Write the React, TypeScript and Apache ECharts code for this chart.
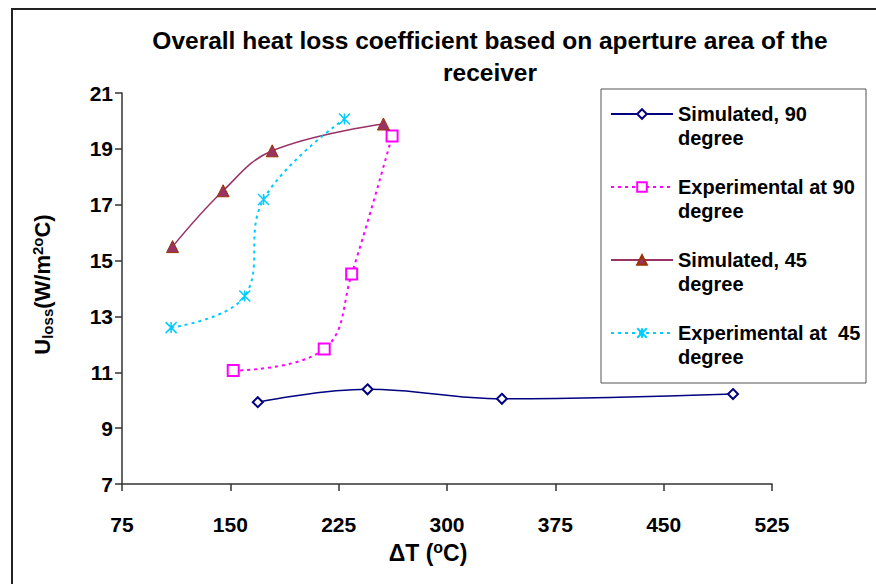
import React, { useEffect, useRef } from "react";
import * as echarts from "echarts";

const seriesNames = [
  "Simulated, 90 degree",
  "Experimental at 90 degree",
  "Simulated, 45 degree",
  "Experimental at  45 degree",
];
const legendLabels = [
  "Simulated, 90\ndegree",
  "Experimental at 90\ndegree",
  "Simulated, 45\ndegree",
  "Experimental at  45\ndegree",
];
const sim90: [number, number][] = [
  [169, 9.93],
  [245, 10.39],
  [338, 10.05],
  [498, 10.22],
];
const exp90: [number, number][] = [
  [152, 11.06],
  [215, 11.83],
  [234, 14.52],
  [262, 19.46],
];
const sim45: [number, number][] = [
  [110, 15.5],
  [145, 17.5],
  [179, 18.93],
  [256, 19.89],
];
const exp45: [number, number][] = [
  [109, 12.6],
  [160, 13.73],
  [173, 17.19],
  [229, 20.07],
];
const xTicks = { min: 75, max: 525, interval: 75 };
const yTicks = { min: 7, max: 21, interval: 2 };

const FONT = "'Liberation Sans', Arial, sans-serif";
const STAR = "path://M0,0L10,10M10,0L0,10M5,0L5,10";

export default function App() {
  const ref = useRef<HTMLDivElement>(null);
  useEffect(() => {
    if (!ref.current) return;
    const chart = echarts.init(ref.current, undefined, { renderer: "svg" });
    const labelMap: Record<string, string> = {};
    seriesNames.forEach((n, i) => (labelMap[n] = " \n" + legendLabels[i]));
    chart.setOption({
      animation: false,
      backgroundColor: "#ffffff",
      title: {
        text: "Overall heat loss coefficient based on aperture area of the\nreceiver",
        left: 490,
        top: 24,
        textAlign: "center",
        padding: 0,
        textStyle: {
          fontFamily: FONT,
          fontSize: 24.5,
          fontWeight: "bold",
          color: "#000",
          lineHeight: 32,
        },
      },
      graphic: [
        {
          type: "rect",
          z: -10,
          shape: { x: 12, y: 9, width: 900, height: 600 },
          style: { fill: "none", stroke: "#222", lineWidth: 2 },
          silent: true,
        },
        {
          type: "rect",
          z: -5,
          shape: { x: 601, y: 89, width: 265, height: 294 },
          style: { fill: "#fff", stroke: "#555", lineWidth: 1 },
          silent: true,
        },
      ],
      legend: {
        orient: "vertical",
        left: 610,
        top: 78,
        padding: 0,
        itemGap: 1,
        itemWidth: 62,
        itemHeight: 12,
        data: seriesNames,
        formatter: (name: string) => labelMap[name] || name,
        textStyle: {
          fontFamily: FONT,
          fontSize: 20,
          fontWeight: "bold",
          color: "#000",
          lineHeight: 24,
        },
      },
      grid: { left: 122, top: 93, right: 104, bottom: 100, containLabel: false },
      xAxis: {
        type: "value",
        min: xTicks.min,
        max: xTicks.max,
        interval: xTicks.interval,
        name: "{a|ΔT (}{s|o}{a|C)}",
        nameLocation: "middle",
        nameGap: 54,
        nameTextStyle: {
          padding: [0, 38, 0, 0],
          rich: {
            a: { fontFamily: FONT, fontSize: 23, fontWeight: "bold", color: "#000" },
            s: {
              fontFamily: FONT,
              fontSize: 16,
              fontWeight: "bold",
              color: "#000",
              verticalAlign: "top",
              padding: [0, 0, 10, 0],
            },
          },
        },
        axisLine: { lineStyle: { color: "#333", width: 1.5 } },
        axisTick: { show: true, inside: false, length: 7, lineStyle: { color: "#333", width: 1.5 } },
        axisLabel: {
          margin: 30,
          fontFamily: FONT,
          fontSize: 21,
          fontWeight: "bold",
          color: "#000",
        },
        splitLine: { show: false },
      },
      yAxis: {
        type: "value",
        min: yTicks.min,
        max: yTicks.max,
        interval: yTicks.interval,
        name: "{a|U}{b|loss}{a|(W/m}{s|2o}{a|C)}",
        nameLocation: "middle",
        nameRotate: 90,
        nameGap: 67,
        nameTextStyle: {
          padding: [0, 0, 0, 8],
          rich: {
            a: { fontFamily: FONT, fontSize: 22, fontWeight: "bold", color: "#000" },
            b: {
              fontFamily: FONT,
              fontSize: 15,
              fontWeight: "bold",
              color: "#000",
              verticalAlign: "bottom",
              padding: [8, 0, 0, 0],
            },
            s: {
              fontFamily: FONT,
              fontSize: 15,
              fontWeight: "bold",
              color: "#000",
              verticalAlign: "top",
              padding: [0, 0, 10, 0],
            },
          },
        },
        axisLine: { show: true, lineStyle: { color: "#333", width: 1.5 } },
        axisTick: { show: true, inside: false, length: 7, lineStyle: { color: "#333", width: 1.5 } },
        axisLabel: {
          margin: 9,
          fontFamily: FONT,
          fontSize: 21,
          fontWeight: "bold",
          color: "#000",
        },
        splitLine: { show: false },
      },
      series: [
        {
          name: seriesNames[0],
          type: "line",
          data: sim90,
          smooth: 0.4,
          symbol: "emptyDiamond",
          symbolSize: 10,
          color: "#000080",
          lineStyle: { color: "#000080", width: 1.5 },
          itemStyle: { color: "#000080", borderColor: "#000080", borderWidth: 1.5 },
        },
        {
          name: seriesNames[1],
          type: "line",
          data: exp90,
          smooth: 0.4,
          symbol: "emptyRect",
          symbolSize: 11,
          color: "#ff00ff",
          lineStyle: { color: "#ff00ff", width: 2, type: [3, 4] },
          itemStyle: { color: "#ff00ff", borderColor: "#ff00ff", borderWidth: 1.5 },
        },
        {
          name: seriesNames[2],
          type: "line",
          data: sim45,
          smooth: 0.4,
          symbol: "triangle",
          symbolSize: 12,
          color: "#993366",
          lineStyle: { color: "#993366", width: 1.5 },
          itemStyle: { color: "#993366", borderColor: "#993300", borderWidth: 1 },
        },
        {
          name: seriesNames[3],
          type: "line",
          data: exp45,
          smooth: 0.4,
          symbol: STAR,
          symbolSize: 11,
          color: "#00ccff",
          lineStyle: { color: "#00ccff", width: 2, type: [3, 4] },
          itemStyle: { color: "#00ccff", borderColor: "#00ccff", borderWidth: 1.5 },
        },
      ],
    });
    return () => chart.dispose();
  }, []);
  return (
    <div
      ref={ref}
      style={{ position: "fixed", left: 0, top: 0, width: 876, height: 584 }}
    />
  );
}
